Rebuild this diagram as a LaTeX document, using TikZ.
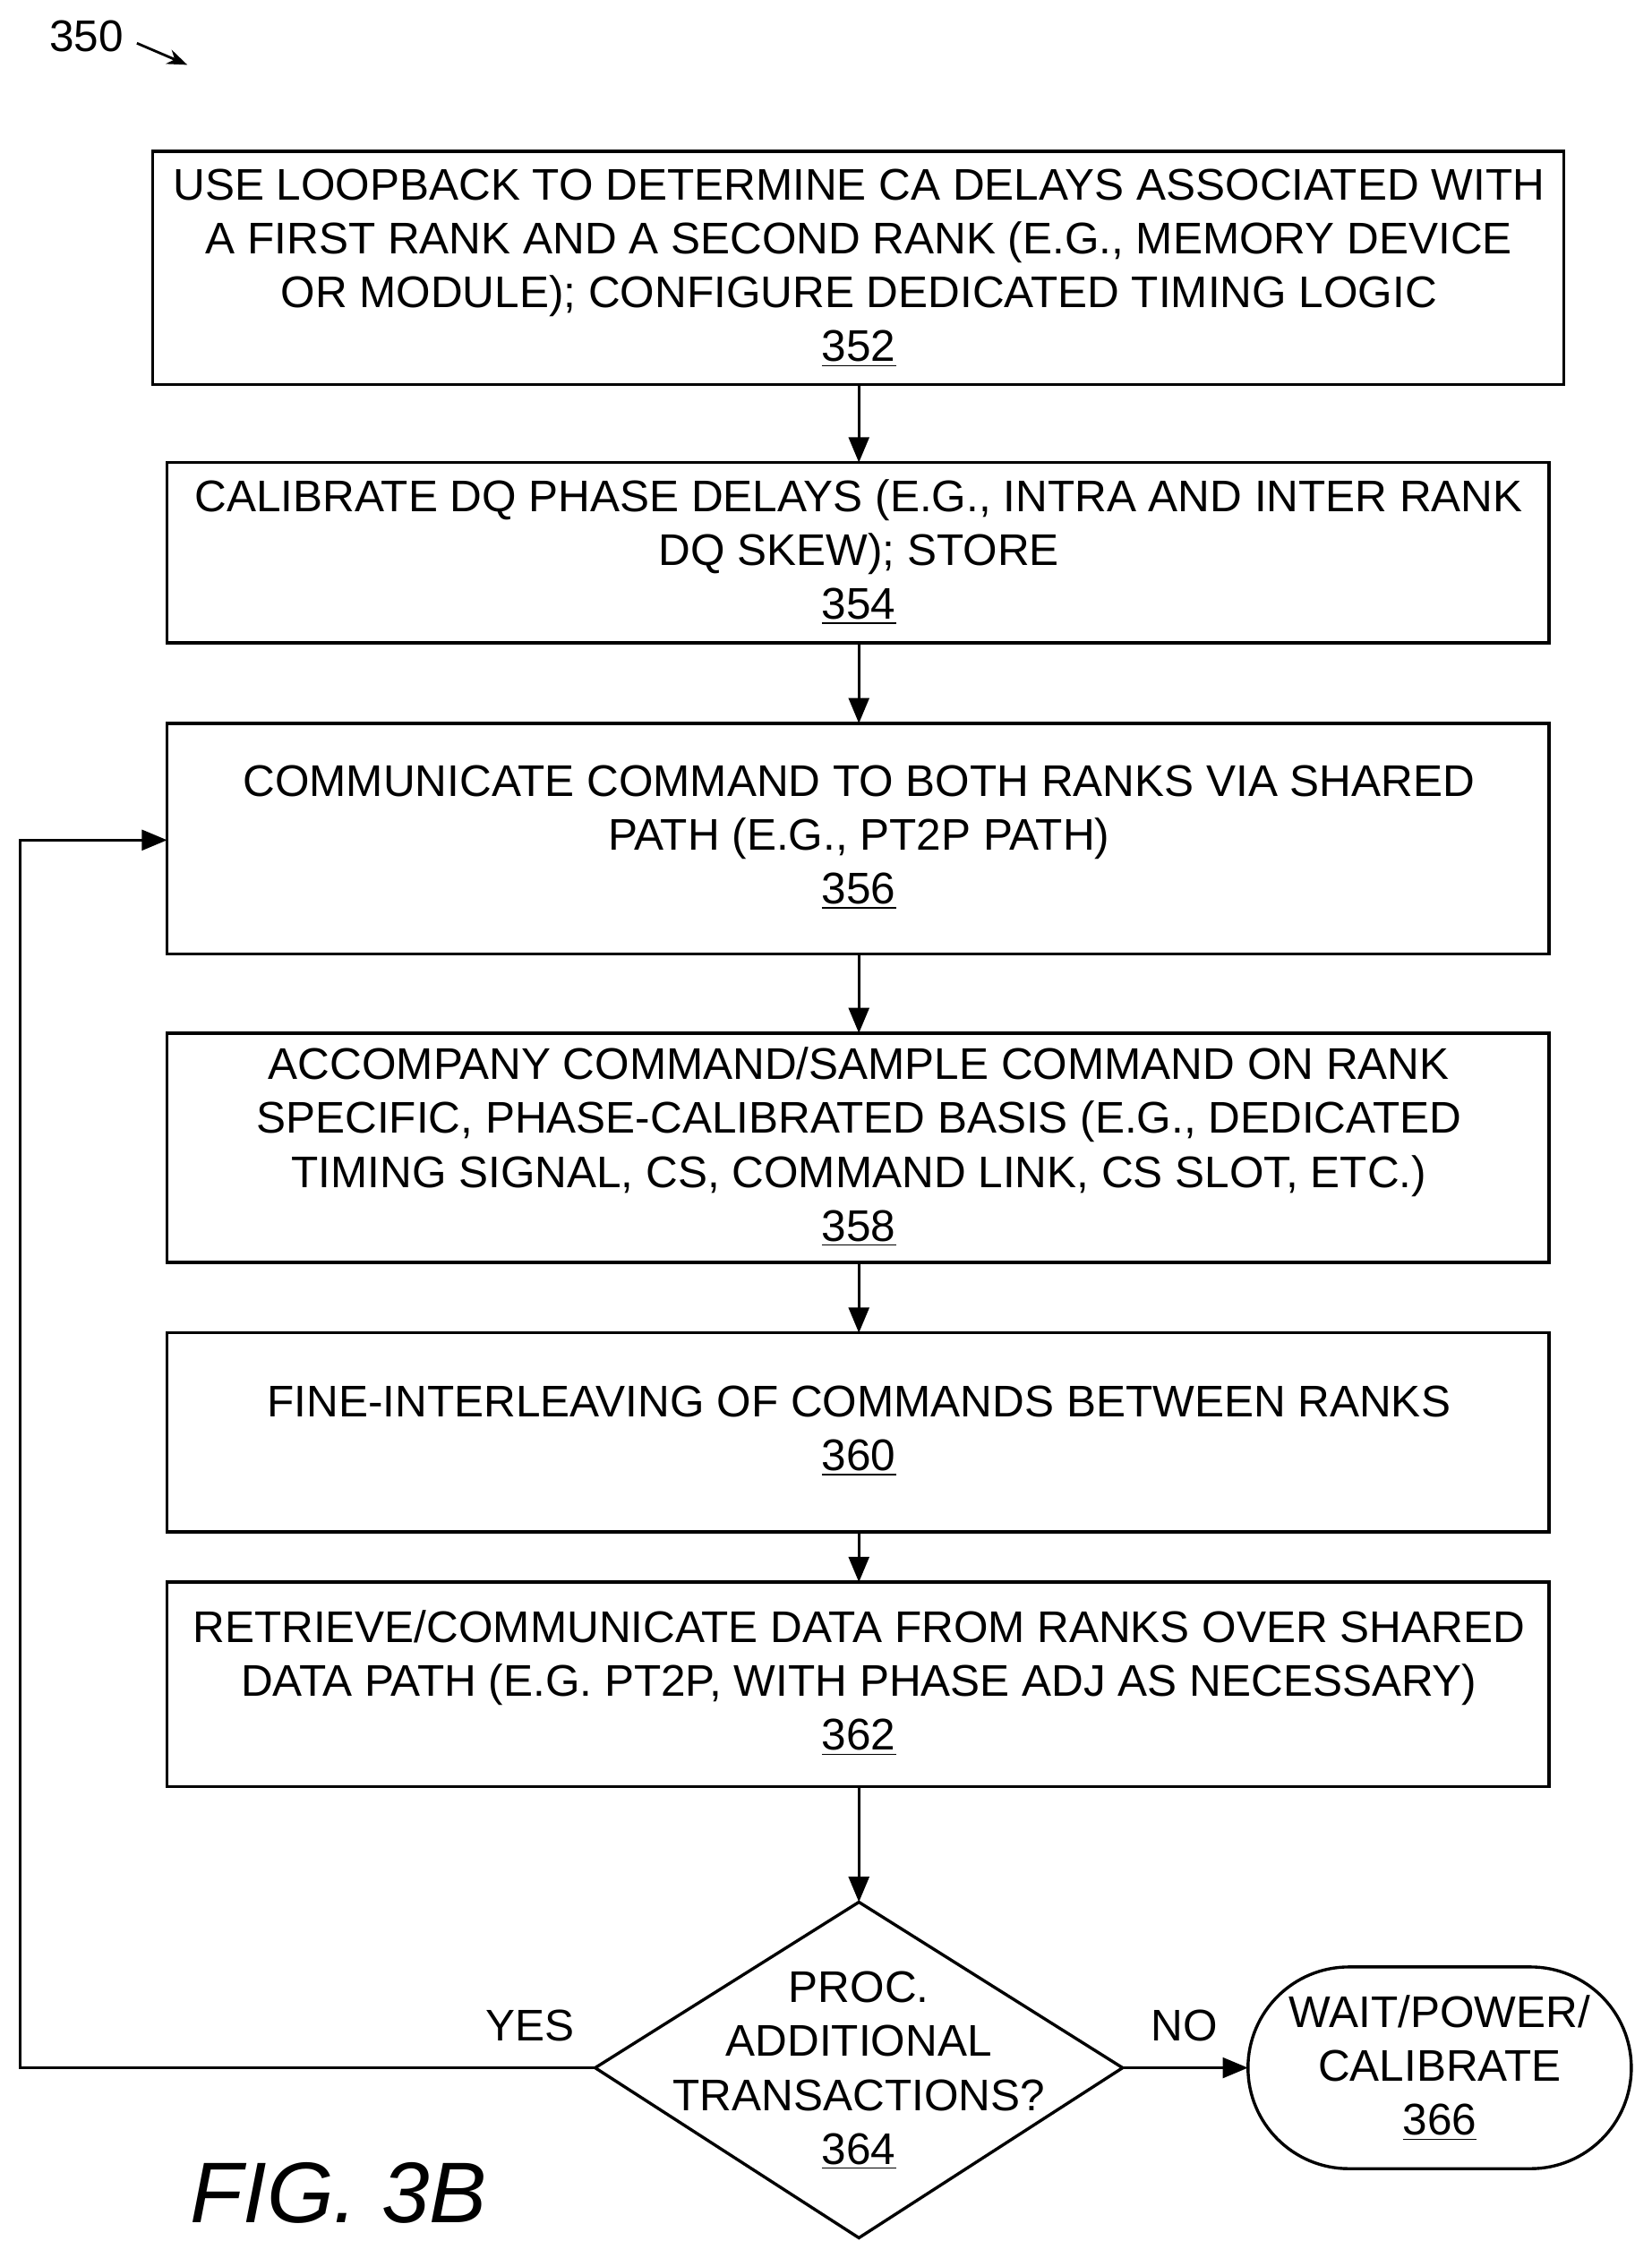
\documentclass[tikz,border=0pt]{standalone}
\usepackage{fontspec}
\setmainfont{Liberation Sans}
\usetikzlibrary{shapes.geometric,arrows.meta}
\begin{document}
\begin{tikzpicture}[x=0.02cm,y=-0.02cm,
 box/.style={draw,line width=1.2pt,inner sep=0pt},
 txt/.style={align=center,font=\fontsize{17.5}{21.3}\selectfont},
 arr/.style={line width=1.2pt,-{Triangle[length=10pt,width=8pt]}}]
\useasboundingbox (0,0) rectangle (1146,1567);
\node[txt] at (60,25) {350};
\draw[line width=1pt,-{Stealth[length=8pt]}] (95,30) -- (130,45);
% boxes
\draw[box] (106,105) rectangle (1085,267); \coordinate (b1t) at (596,105); \coordinate (b1b) at (596,267);
\node[txt] at (596,186) {USE LOOPBACK TO DETERMINE CA DELAYS ASSOCIATED WITH\\A FIRST RANK AND A SECOND RANK (E.G., MEMORY DEVICE\\OR MODULE); CONFIGURE DEDICATED TIMING LOGIC\\\underline{352}};
\draw[box] (116,321) rectangle (1075,446); \coordinate (b2t) at (596,321); \coordinate (b2b) at (596,446);
\node[txt] at (596,383) {CALIBRATE DQ PHASE DELAYS (E.G., INTRA AND INTER RANK\\DQ SKEW); STORE\\\underline{354}};
\draw[box] (116,502) rectangle (1075,662); \coordinate (b3t) at (596,502); \coordinate (b3b) at (596,662); \coordinate (b3l) at (116,583);
\node[txt] at (596,581) {COMMUNICATE COMMAND TO BOTH RANKS VIA SHARED\\PATH (E.G., PT2P PATH)\\\underline{356}};
\draw[box] (116,717) rectangle (1075,876); \coordinate (b4t) at (596,717); \coordinate (b4b) at (596,876);
\node[txt] at (596,796) {ACCOMPANY COMMAND/SAMPLE COMMAND ON RANK\\SPECIFIC, PHASE-CALIBRATED BASIS (E.G., DEDICATED\\TIMING SIGNAL, CS, COMMAND LINK, CS SLOT, ETC.)\\\underline{358}};
\draw[box] (116,925) rectangle (1075,1063); \coordinate (b5t) at (596,925); \coordinate (b5b) at (596,1063);
\node[txt] at (596,993) {FINE-INTERLEAVING OF COMMANDS BETWEEN RANKS\\\underline{360}};
\draw[box] (116,1098) rectangle (1075,1240); \coordinate (b6t) at (596,1098); \coordinate (b6b) at (596,1240);
\node[txt] at (596,1168) {RETRIEVE/COMMUNICATE DATA FROM RANKS OVER SHARED\\DATA PATH (E.G. PT2P, WITH PHASE ADJ AS NECESSARY)\\\underline{362}};
% diamond
\draw[box] (596,1320) -- (779,1435) -- (596,1553) -- (413,1435) -- cycle;
\coordinate (dt) at (596,1320); \coordinate (dl) at (413,1435); \coordinate (dr) at (779,1435);
\node[txt] at (596,1437) {PROC.\\ADDITIONAL\\TRANSACTIONS?\\\underline{364}};
% terminal
\draw[box,rounded corners=70*0.02cm] (866,1365) rectangle (1132,1505);
\coordinate (tl) at (866,1435);
\node[txt] at (999,1435) {WAIT/POWER/\\CALIBRATE\\\underline{366}};
% arrows
\draw[arr] (b1b) -- (b2t);
\draw[arr] (b2b) -- (b3t);
\draw[arr] (b3b) -- (b4t);
\draw[arr] (b4b) -- (b5t);
\draw[arr] (b5b) -- (b6t);
\draw[arr] (b6b) -- (dt);
\draw[arr] (dr) -- (tl);
\draw[arr] (dl) -- (14,1435) -- (14,583) -- (b3l);
\node[txt] at (368,1406) {YES};
\node[txt] at (822,1406) {NO};
\node[font=\itshape\fontsize{34}{36}\selectfont] at (235,1522) {FIG. 3B};
\end{tikzpicture}
\end{document}
